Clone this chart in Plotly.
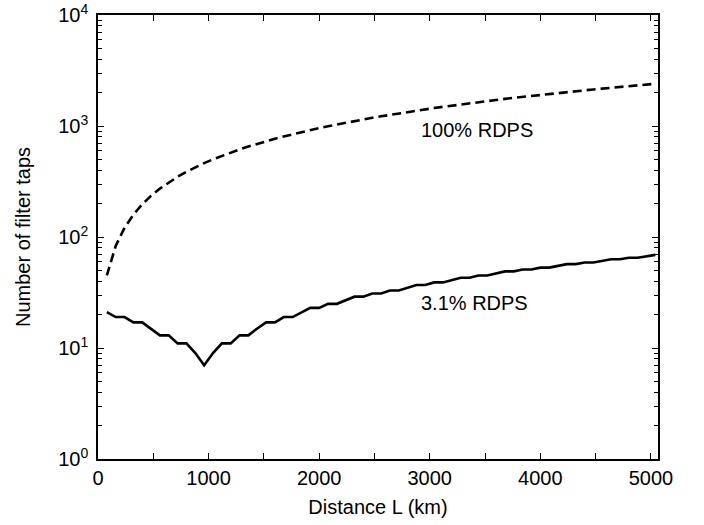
import math
import plotly.graph_objects as go

# Distance samples (km), one per 80 km span
distance_km = [80 * k for k in range(1, 64)]

# 100% RDPS (dashed) - number of filter taps
taps_100 = [45, 83, 121, 159, 197, 235, 273, 311, 349, 387, 425, 463, 501, 539, 577,
            615, 653, 691, 729, 767, 805, 843, 881, 919, 957, 995, 1033, 1071, 1109,
            1147, 1185, 1223, 1261, 1299, 1337, 1375, 1413, 1451, 1489, 1527, 1565,
            1603, 1641, 1679, 1717, 1755, 1793, 1831, 1869, 1907, 1945, 1983, 2021,
            2059, 2097, 2135, 2173, 2211, 2249, 2287, 2325, 2363, 2401]

# 3.1% RDPS (solid)
taps_31 = [21, 19, 19, 17, 17, 15, 13, 13, 11, 11, 9, 7, 9, 11, 11, 13, 13, 15, 17, 17,
           19, 19, 21, 23, 23, 25, 25, 27, 29, 29, 31, 31, 33, 33, 35, 37, 37, 39, 39,
           41, 43, 43, 45, 45, 47, 49, 49, 51, 51, 53, 53, 55, 57, 57, 59, 59, 61, 63,
           63, 65, 65, 67, 69]

x_tick_vals = [0, 500, 1000, 1500, 2000, 2500, 3000, 3500, 4000, 4500, 5000]
x_tick_text = ["0", "", "1000", "", "2000", "", "3000", "", "4000", "", "5000"]
y_tick_vals = [1, 10, 100, 1000, 10000]
y_tick_text = ["10<sup>0</sup>", "10<sup>1</sup>", "10<sup>2</sup>", "10<sup>3</sup>", "10<sup>4</sup>"]
y_minor_vals = [m * d for d in [1, 10, 100, 1000] for m in range(2, 10)]

labels = [("100% RDPS", 3430, 926), ("3.1% RDPS", 3405, 25.3)]

FONT = "Arial, Liberation Sans, sans-serif"

fig = go.Figure()
fig.add_trace(go.Scatter(x=distance_km, y=taps_100, mode="lines",
                         line=dict(color="black", width=2.6, dash="9px,5px"),
                         showlegend=False))
fig.add_trace(go.Scatter(x=distance_km, y=taps_31, mode="lines",
                         line=dict(color="black", width=2.6),
                         showlegend=False))

for txt, xv, yv in labels:
    fig.add_annotation(x=xv, y=math.log10(yv), text=txt, showarrow=False,
                       font=dict(family=FONT, size=20, color="black"))

fig.update_layout(
    width=704, height=525,
    margin=dict(l=98, r=46, t=15, b=66),
    paper_bgcolor="white", plot_bgcolor="white",
    font=dict(family=FONT, size=20, color="black"),
    showlegend=False,
)
fig.update_xaxes(
    range=[0, 5064], showgrid=False, zeroline=False, automargin=False,
    showline=True, linecolor="black", linewidth=1.5, mirror="allticks",
    ticks="inside", ticklen=6, tickwidth=1.2, tickcolor="black",
    tickvals=x_tick_vals, ticktext=x_tick_text,
    tickfont=dict(family=FONT, size=20),
    title=dict(text="Distance L (km)", font=dict(family=FONT, size=20), standoff=12),
)
fig.update_yaxes(
    type="log", range=[0, 4], showgrid=False, zeroline=False, automargin=False,
    showline=True, linecolor="black", linewidth=1.5, mirror="allticks",
    ticks="inside", ticklen=6, tickwidth=1.2, tickcolor="black",
    tickvals=y_tick_vals, ticktext=y_tick_text,
    tickfont=dict(family=FONT, size=20),
    ticklabelstandoff=4,
    minor=dict(tickvals=y_minor_vals, ticks="inside", ticklen=4, tickwidth=1.2, tickcolor="black"),
    title=dict(text="Number of filter taps", font=dict(family=FONT, size=20), standoff=22),
)

fig.write_html("out.html",
               config={"displayModeBar": False},
               post_script="document.body.style.margin='0';document.body.style.overflow='hidden';")
